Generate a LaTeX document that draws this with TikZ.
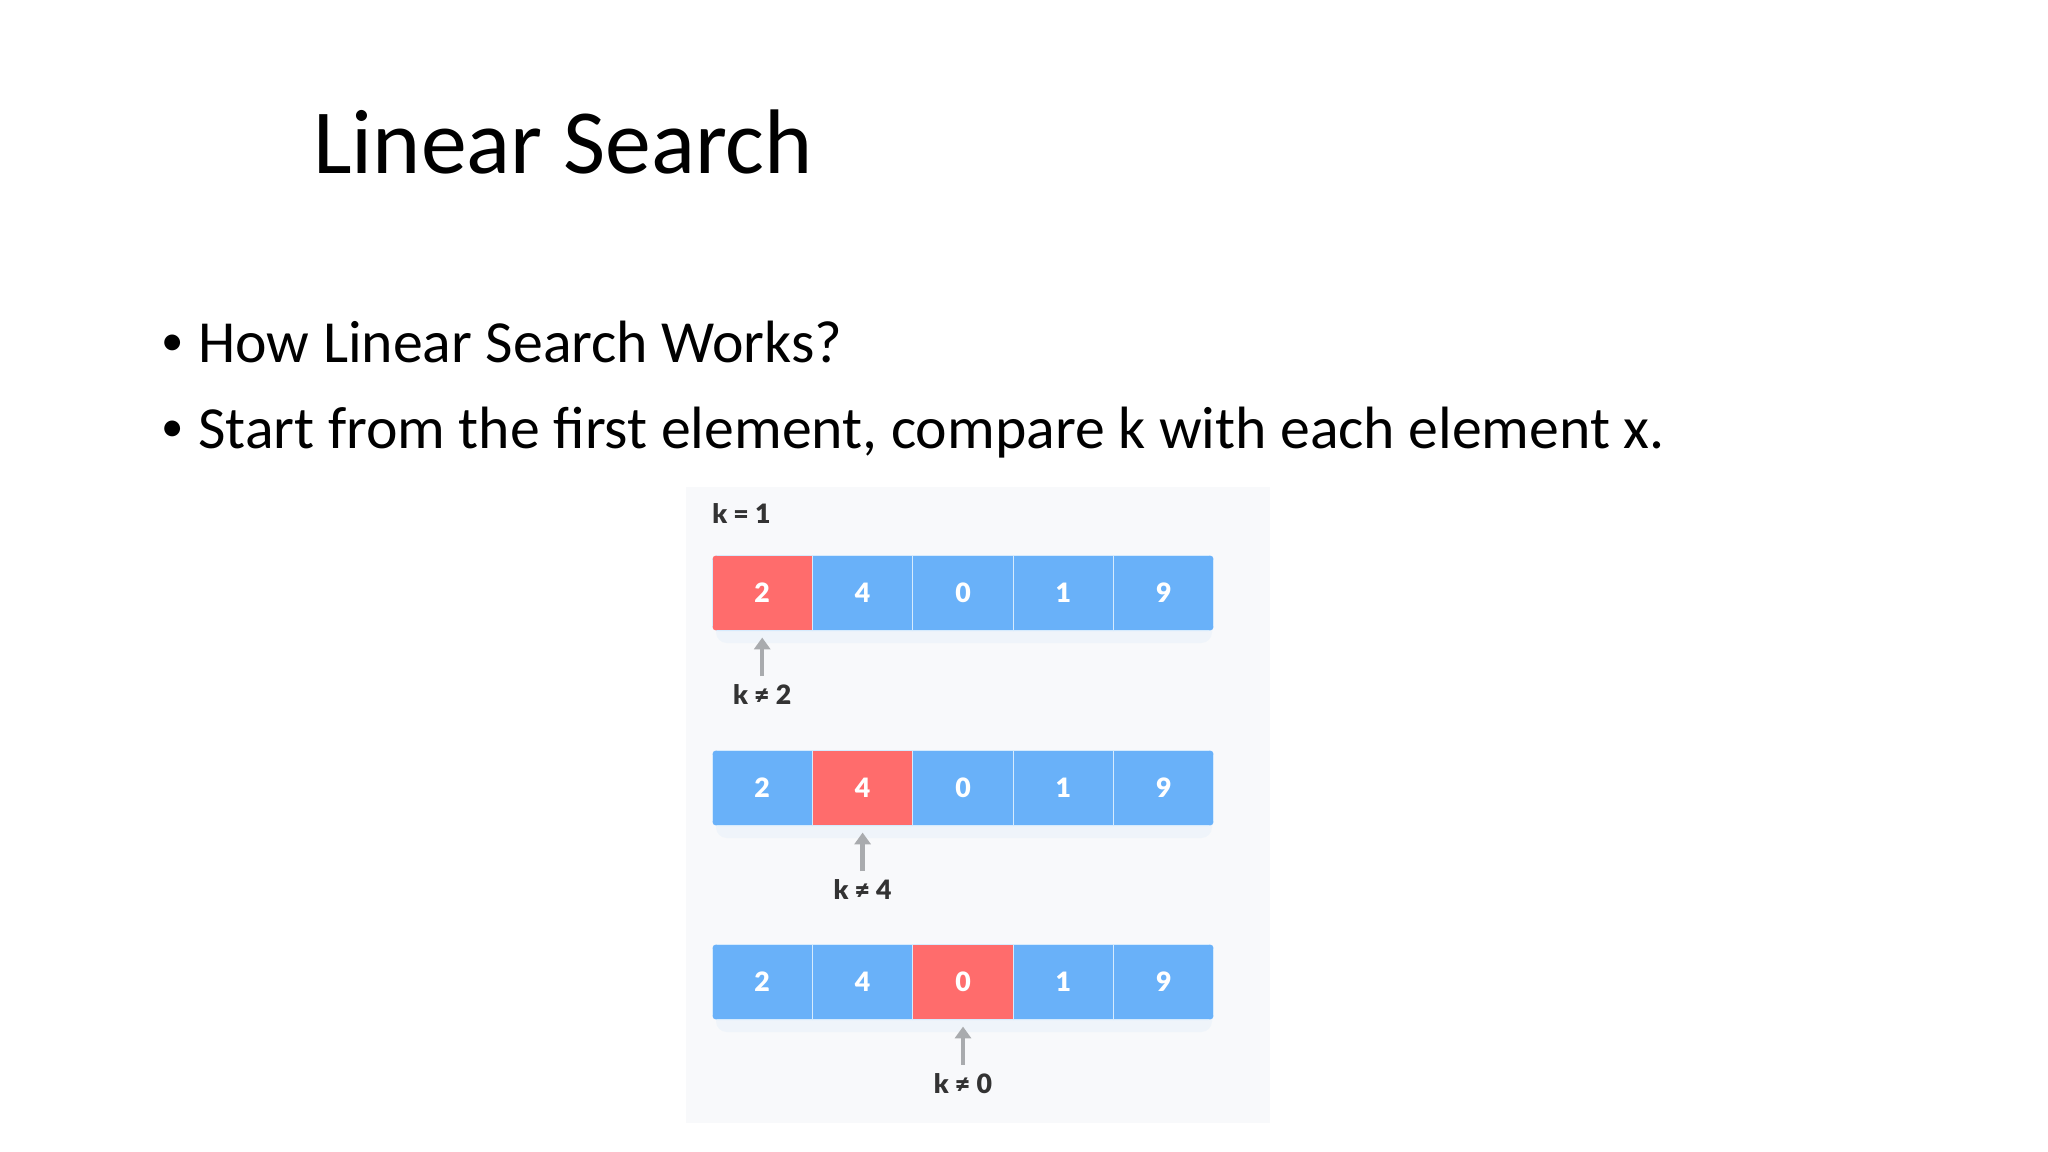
\documentclass[tikz,border=0pt]{standalone}
\usepackage{fontspec}
\setmainfont{Carlito}
\newfontfamily\figfont{Lato Black}
\usetikzlibrary{arrows.meta,positioning}

\definecolor{cellblue}{HTML}{69B1F9}
\definecolor{cellred}{HTML}{FF6C6C}
\definecolor{cellline}{HTML}{D6EBFD}
\definecolor{panelgray}{HTML}{F8F9FB}
\definecolor{labelgray}{HTML}{333333}
\definecolor{arrowgray}{HTML}{A9ABAE}

\tikzset{
  slidetext/.style={anchor=base west, inner sep=0pt, font=\fontsize{28}{34}\selectfont},
  bulletdot/.style={anchor=base west, inner sep=0pt, font=\fontsize{21}{25}\selectfont},
  cell/.style={rectangle, draw=cellline, line width=0.6pt, minimum width=47.06pt,
    minimum height=35.6pt, inner sep=0pt, text=white,
    font=\figfont\fontsize{12.5}{15}\selectfont},
  steplabel/.style={text=labelgray, inner sep=1pt,
    font=\figfont\fontsize{12.5}{15}\selectfont},
  pointer/.style={draw=arrowgray, line width=2pt,
    -{Triangle[width=7.5pt,length=5.5pt]}, shorten <=3pt, shorten >=2.8pt}
}

\begin{document}
\begin{tikzpicture}[x=0.46875pt, y=-0.46875pt]
    \useasboundingbox[fill=white] (0,0) rectangle (2048,1152);

    % Title and bullets
    \node[anchor=base west, inner sep=0pt, font=\fontsize{43}{50}\selectfont] (title) at (313,174) {Linear Search};
    \node[bulletdot] (dot1) at (161,355) {•};
    \node[slidetext] (line1) at (198,362) {How Linear Search Works?};
    \node[bulletdot] (dot2) at (161,441) {•};
    \node[slidetext] (line2) at (198,448) {Start from the first element, compare k with each element x.};

    % Panel
    \fill[panelgray] (686,487) rectangle (1270,1123);
    \node[anchor=base west, inner sep=0pt, text=labelgray,
      font=\figfont\fontsize{12.5}{15}\selectfont] (key) at (712,523) {k = 1};

    % Rows of the array
    \foreach \r/\y/\hit/\kv in {1/555/1/2, 2/750/2/4, 3/944/3/0} {
        \fill[cellblue, opacity=0.06, rounded corners=5pt] (716,\y+8) rectangle (1212,\y+88);
        \begin{scope}
            \clip[rounded corners=2.5pt] (712,\y) rectangle (1214,\y+76);
            \foreach \v [count=\i] in {2,4,0,1,9} {
                \edef\cellfill{\ifnum\i=\hit cellred\else cellblue\fi}
                \node[cell, fill=\cellfill] (r\r c\i) at ({712+100.4*(\i-0.5)},\y+38) {\v};
            }
        \end{scope}
        \node[steplabel] (k\r) at ({712+100.4*(\hit-0.5)},\y+140) {k ≠ \kv};
        \draw[pointer] (k\r) -- (r\r c\hit);
    }
\end{tikzpicture}
\end{document}
